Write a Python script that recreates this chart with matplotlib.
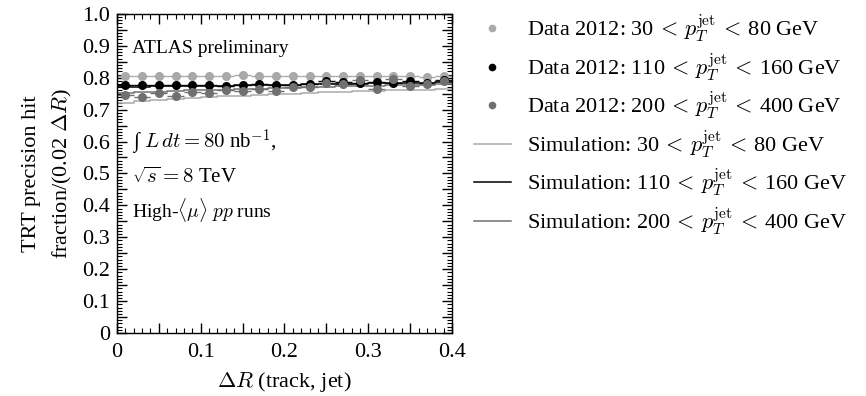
import numpy as np
import matplotlib
matplotlib.use('Agg')
import matplotlib.pyplot as plt
from matplotlib.lines import Line2D
from matplotlib.legend_handler import HandlerLine2D
from matplotlib.ticker import MultipleLocator, FuncFormatter

plt.rcParams['font.family'] = ['Liberation Serif', 'DejaVu Serif']
plt.rcParams['mathtext.fontset'] = 'cm'

# bin centres of delta R (0.02 wide bins)
dr = [0.01, 0.03, 0.05, 0.07, 0.09, 0.11, 0.13, 0.15, 0.17, 0.19,
      0.21, 0.23, 0.25, 0.27, 0.29, 0.31, 0.33, 0.35, 0.37, 0.39]

# data 2012
data_30_80 = [0.806, 0.806, 0.804, 0.806, 0.805, 0.806, 0.805, 0.807, 0.806, 0.806,
              0.806, 0.806, 0.806, 0.806, 0.806, 0.805, 0.805, 0.804, 0.803, 0.804]
data_110_160 = [0.776, 0.776, 0.777, 0.776, 0.777, 0.777, 0.773, 0.778, 0.779, 0.776,
                0.777, 0.779, 0.789, 0.785, 0.782, 0.787, 0.782, 0.790, 0.782, 0.792]
data_200_400 = [0.745, 0.740, 0.752, 0.744, 0.755, 0.752, 0.760, 0.757, 0.766, 0.758,
                0.772, 0.770, 0.784, 0.780, 0.793, 0.765, 0.797, 0.775, 0.780, 0.790]

# simulation
sim_30_80 = [0.722, 0.726, 0.730, 0.733, 0.736, 0.739, 0.742, 0.744, 0.746, 0.748,
             0.750, 0.752, 0.754, 0.756, 0.757, 0.758, 0.760, 0.762, 0.763, 0.765]
sim_110_160 = [0.772, 0.772, 0.773, 0.773, 0.774, 0.774, 0.775, 0.776, 0.776, 0.777,
               0.778, 0.779, 0.779, 0.780, 0.781, 0.782, 0.783, 0.783, 0.784, 0.785]
sim_200_400 = [0.752, 0.754, 0.756, 0.758, 0.760, 0.762, 0.763, 0.765, 0.766, 0.768,
               0.769, 0.771, 0.772, 0.773, 0.774, 0.775, 0.776, 0.777, 0.778, 0.779]

pt = '$\\,<\\,p_T^{\\mathrm{jet}}\\,<\\,$'
labels_data = ['Data 2012: 30' + pt + '80 GeV',
               'Data 2012: 110' + pt + '160 GeV',
               'Data 2012: 200' + pt + '400 GeV']
labels_sim = ['Simulation: 30' + pt + '80 GeV',
              'Simulation: 110' + pt + '160 GeV',
              'Simulation: 200' + pt + '400 GeV']
colors = ['#a9a9a9', '#000000', '#707070']


class RightMarker(HandlerLine2D):
    # put the legend dot at the right end of the handle box
    def get_xdata(self, legend, xdescent, ydescent, width, height, fontsize):
        xdata, _ = super().get_xdata(legend, xdescent, ydescent, width, height, fontsize)
        return xdata, [-xdescent + 0.93 * width]


fig = plt.figure(figsize=(8.66, 3.96), dpi=100)
ax = fig.add_axes([0.135, 0.159, 0.387, 0.806])

x = np.array(dr)
edges = np.append(x - 0.01, x[-1] + 0.01)

for vals, c in zip([data_30_80, data_110_160, data_200_400], colors):
    ax.errorbar(x, vals, xerr=0.01, yerr=0.004, fmt='o', color=c, ms=5.5,
                elinewidth=1.0, capsize=0)

sim_handles = []
for vals, c, lab in zip([sim_30_80, sim_110_160, sim_200_400], colors, labels_sim):
    h, = ax.step(edges, list(vals) + [vals[-1]], where='post', color=c, lw=1.1, label=lab)
    sim_handles.append(h)

data_handles = [Line2D([], [], ls='none', marker='o', color=c, ms=4.5, label=lab)
                for c, lab in zip(colors, labels_data)]

ax.set_xlim(0, 0.4)
ax.set_ylim(0, 1.0)
ax.xaxis.set_major_locator(MultipleLocator(0.05))
ax.xaxis.set_minor_locator(MultipleLocator(0.01))
ax.yaxis.set_major_locator(MultipleLocator(0.05))
ax.yaxis.set_minor_locator(MultipleLocator(0.01))


def tickfmt(v, pos):
    r = round(v, 3)
    if abs(r * 10 - round(r * 10)) > 1e-6:
        return ''
    return '0' if r == 0 else '%.1f' % r


ax.xaxis.set_major_formatter(FuncFormatter(tickfmt))
ax.yaxis.set_major_formatter(FuncFormatter(tickfmt))
ax.tick_params(which='both', direction='in', top=True, right=True, labelsize=16)
ax.tick_params(which='major', length=7, width=1)
ax.tick_params(which='minor', length=3.5, width=0.8)
ax.tick_params(axis='x', pad=7)
ax.tick_params(axis='y', pad=5)
for s in ax.spines.values():
    s.set_linewidth(1.0)

ax.set_xlabel('$\\Delta R$ (track, jet)', fontsize=16, labelpad=6)
ax.set_ylabel('TRT precision hit\nfraction/(0.02 $\\Delta R$)', fontsize=16,
              labelpad=6, linespacing=1.6)

tx = 0.045
ax.text(tx, 0.893, 'ATLAS preliminary', transform=ax.transAxes, fontsize=14, va='center')
ax.text(tx, 0.595, '\u222b $L\\,dt = 80$ nb$^{-1}$,', transform=ax.transAxes,
        fontsize=15, va='center')
ax.text(tx, 0.485, '$\\sqrt{s} = 8$ TeV', transform=ax.transAxes, fontsize=15, va='center')
ax.text(tx, 0.385, 'High-$\\langle\\mu\\rangle$ $pp$ runs', transform=ax.transAxes,
        fontsize=14, va='center')

handler = {h: RightMarker() for h in data_handles}
fig.legend(handles=data_handles + sim_handles, loc='upper left',
           bbox_to_anchor=(0.537, 0.99), frameon=False, fontsize=16,
           handlelength=1.67, handletextpad=0.72, labelspacing=0.31,
           borderaxespad=0, handler_map=handler)

fig.savefig('out.png', dpi=100)
